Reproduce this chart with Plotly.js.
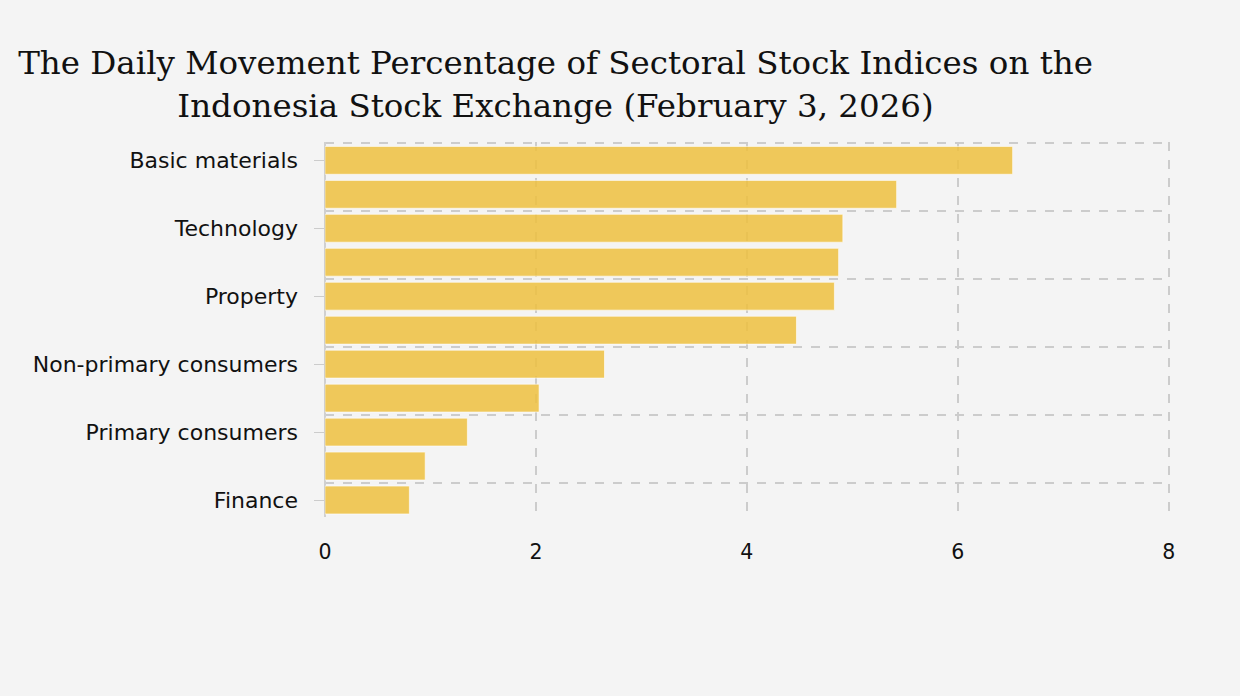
<!DOCTYPE html>
<html>
<head>
<meta charset="utf-8">
<script src="https://cdn.plot.ly/plotly-3.0.1.min.js"></script>
<style>
html,body{margin:0;padding:0;background:#f4f4f4;}
#chart{width:1240px;height:696px;}
</style>
</head>
<body>
<div id="chart"></div>
<script>
// Sectors, top to bottom
const sectors = [
  "Basic materials",
  "Energy",
  "Technology",
  "Infrastructure",
  "Property",
  "Industrials",
  "Non-primary consumers",
  "Transportation and logistics",
  "Primary consumers",
  "Healthcare",
  "Finance"
];
// Daily movement (%)
const movement = [6.52, 5.42, 4.91, 4.87, 4.83, 4.47, 2.65, 2.03, 1.35, 0.95, 0.80];
const xTicks = [0, 2, 4, 6, 8];

const traces = [
  {
    type: "bar",
    orientation: "h",
    y: sectors,
    x: movement,
    marker: {color: "rgba(238,192,64,0.86)", line: {color: "rgba(255,255,255,0.6)", width: 1}},
    hoverinfo: "x+y",
    yaxis: "y"
  },
  {
    type: "scatter",
    mode: "markers",
    y: sectors,
    x: movement,
    marker: {opacity: 0},
    hoverinfo: "skip",
    showlegend: false,
    yaxis: "y2"
  }
];

const layout = {
  width: 1240,
  height: 696,
  paper_bgcolor: "#f4f4f4",
  plot_bgcolor: "#f4f4f4",
  showlegend: false,
  margin: {l: 325, r: 70, t: 142, b: 179},
  bargap: 0.18,
  title: {
    text: "The Daily Movement Percentage of Sectoral Stock Indices on the<br>Indonesia Stock Exchange (February 3, 2026)",
    font: {family: "DejaVu Serif", size: 32.5, color: "#111"},
    x: 0.448,
    xanchor: "center",
    y: 0.893,
    yanchor: "middle"
  },
  font: {family: "DejaVu Sans", size: 20, color: "#111"},
  xaxis: {
    range: [0, 8.012],
    tickvals: xTicks,
    showgrid: true,
    gridcolor: "#cccccc",
    griddash: "dash",
    gridwidth: 2,
    zeroline: true,
    zerolinecolor: "#d0d0d0",
    zerolinewidth: 2,
    showline: false,
    ticks: "",
    ticklabelstandoff: 20,
    tickfont: {size: 20.5, family: "DejaVu Sans"}
  },
  yaxis: {
    type: "category",
    categoryorder: "array",
    categoryarray: sectors,
    range: [10.5, -0.54],
    dtick: 2,
    tick0: 0,
    tickson: "boundaries",
    showgrid: true,
    gridcolor: "#cccccc",
    griddash: "dash",
    gridwidth: 2,
    zeroline: false,
    ticks: "",
    ticklabelstandoff: 26,
    tickfont: {size: 22, family: "DejaVu Sans"}
  },
  yaxis2: {
    type: "category",
    overlaying: "y",
    categoryorder: "array",
    categoryarray: sectors,
    range: [10.5, -0.54],
    dtick: 2,
    tick0: 0,
    showgrid: false,
    zeroline: false,
    ticks: "outside",
    ticklen: 10,
    tickwidth: 1,
    tickcolor: "#cccccc",
    showticklabels: false
  }
};

Plotly.newPlot("chart", traces, layout, {displayModeBar: false, staticPlot: true});
</script>
</body>
</html>
